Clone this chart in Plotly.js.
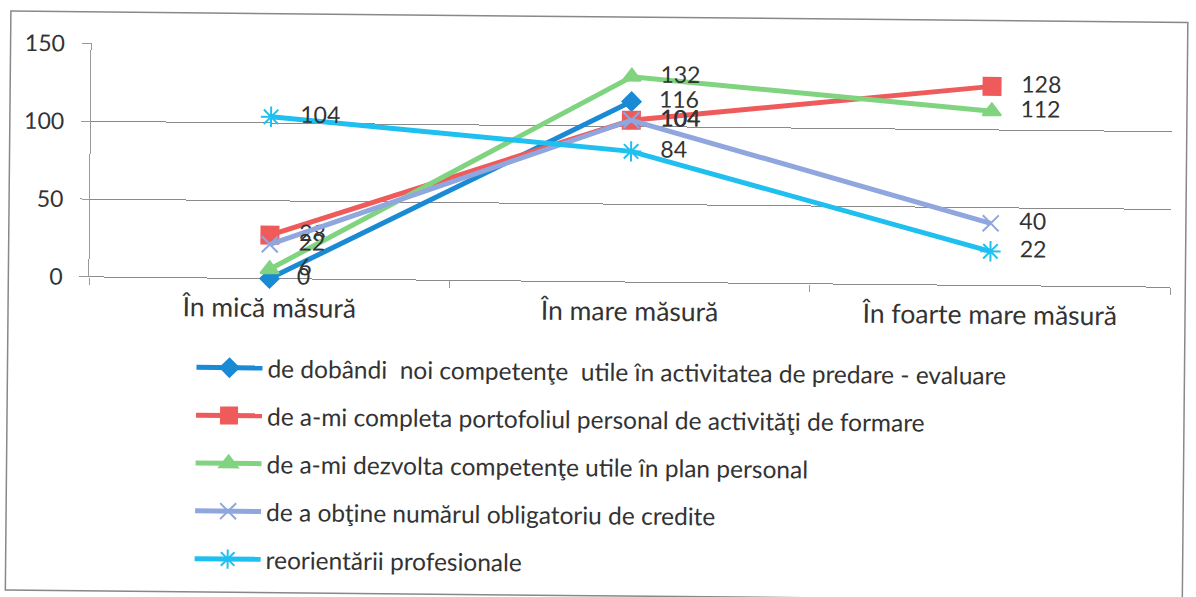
<!DOCTYPE html>
<html>
<head>
<meta charset="utf-8">
<script src="https://cdn.plot.ly/plotly-3.0.1.min.js"></script>
<style>
html,body{margin:0;padding:0;background:#fff;overflow:hidden;}
#chart{width:1196px;height:597px;transform:rotate(0.55deg);transform-origin:0 0;}
</style>
</head>
<body>
<div id="chart"></div>
<script>
const categories = ["În mică măsură", "În mare măsură", "În foarte mare măsură"];
const seriesNames = [
  "de dobândi  noi competenţe  utile în activitatea de predare - evaluare",
  "de a-mi completa portofoliul personal de activităţi de formare",
  "de a-mi dezvolta competenţe utile în plan personal",
  "de a obţine numărul obligatoriu de credite",
  "reorientării profesionale"
];
const dobandi = [0, 116, null];
const portofoliu = [28, 104, 128];
const dezvolta = [6, 132, 112];
const credite = [22, 104, 40];
const reorientare = [104, 84, 22];
const yTicks = [0, 50, 100, 150];

const seriesValues = [dobandi, portofoliu, dezvolta, credite, reorientare];
const colors = ["#1a8ad4", "#ef5b5b", "#80d480", "#8fa6de", "#1fc0ef"];
const symbols = ["diamond", "square", "triangle-up", "x-thin-open", "asterisk-open"];
const msizes = [14, 17, 16, 16, 17];

const font = "Lato, 'Open Sans', sans-serif";
const pad = "\u00a0\u00a0\u00a0";
const traces = seriesValues.map((vals, i) => ({
  type: "scatter",
  mode: "lines+markers+text",
  x: categories,
  y: vals,
  name: seriesNames[i],
  legendgroup: "g" + i,
  text: vals.map(v => v === null ? "" : pad + String(v)),
  textposition: "middle right",
  textfont: {family: font, size: 23, color: "#333"},
  line: {color: colors[i], width: 5},
  marker: {symbol: symbols[i], size: msizes[i], color: colors[i],
           line: {color: colors[i], width: 2}},
  cliponaxis: false,
  connectgaps: false
}));

const L = 92, R = 1173, T = 42, B = 276;
const W = R - L, H = B - T;
const px = x => (x - L) / W;
const py = y => (B - y) / H;

const layout = {
  width: 1196, height: 597,
  margin: {l: L, r: 1196 - R, t: T, b: 597 - B, autoexpand: false},
  paper_bgcolor: "#fff", plot_bgcolor: "#fff",
  font: {family: font, size: 20, color: "#333"},
  showlegend: true,
  legend: {
    x: px(195), y: py(343), xanchor: "left", yanchor: "top",
    orientation: "v", traceorder: "grouped", tracegroupgap: 13,
    itemwidth: 66, font: {family: font, size: 24.5, color: "#333"},
    bgcolor: "rgba(0,0,0,0)"
  },
  xaxis: {
    type: "category", range: [-0.5, 2.5], fixedrange: true, automargin: false,
    showgrid: false, showline: false, zeroline: false,
    ticks: "outside", tickson: "boundaries", ticklen: 7, tickcolor: "#999",
    ticklabelstandoff: 11,
    tickfont: {family: font, size: 26.5, color: "#333"}
  },
  yaxis: {
    range: [0, 150.4], tickvals: yTicks, ticktext: yTicks.map(String), automargin: false,
    showgrid: true, gridcolor: "#8a8a8a", gridwidth: 1,
    zeroline: true, zerolinecolor: "#8a8a8a", zerolinewidth: 1,
    showline: true, linecolor: "#999", linewidth: 1,
    ticks: "outside", ticklen: 9, tickcolor: "#999",
    ticklabelstandoff: 12,
    tickfont: {family: font, size: 23, color: "#333"}
  },
  shapes: [{
    type: "rect", xref: "paper", yref: "paper",
    x0: px(11), x1: px(1188), y0: py(590), y1: py(11),
    line: {color: "#888", width: 1.5}, fillcolor: "rgba(0,0,0,0)", layer: "below"
  }]
};

Plotly.newPlot("chart", traces, layout, {staticPlot: true, displayModeBar: false});
</script>
</body>
</html>
